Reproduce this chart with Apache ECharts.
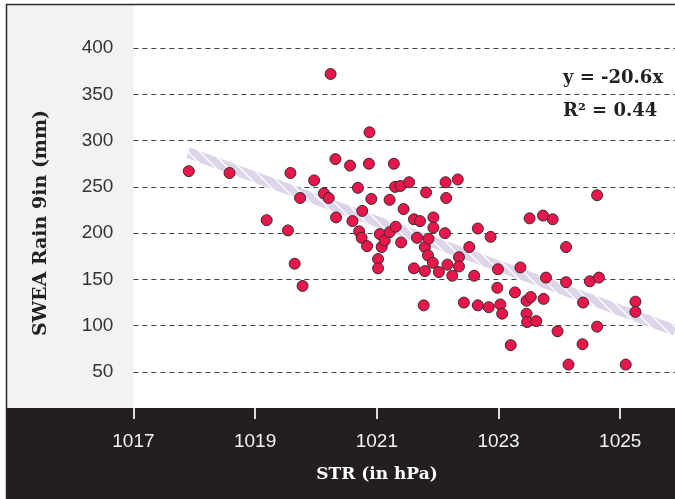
<!DOCTYPE html>
<html><head><meta charset="utf-8">
<script src="https://cdn.jsdelivr.net/npm/echarts@6/dist/echarts.min.js"></script>
<style>html,body{margin:0;padding:0;background:#fff}#c{width:675px;height:499px}</style>
</head><body><div id="c"></div>
<script>
const strValues = [
  1017.91, 1018.58, 1019.19, 1019.54, 1019.58, 1019.65, 1019.74, 1019.78, 1019.97, 1020.13,
  1020.21, 1020.24, 1020.32, 1020.33, 1020.56, 1020.60, 1020.69, 1020.71, 1020.75, 1020.76,
  1020.84, 1020.87, 1020.88, 1020.91, 1021.02, 1021.02, 1021.05, 1021.08, 1021.13, 1021.21,
  1021.21, 1021.28, 1021.30, 1021.31, 1021.39, 1021.40, 1021.44, 1021.53, 1021.61, 1021.61,
  1021.66, 1021.71, 1021.77, 1021.79, 1021.79, 1021.81, 1021.84, 1021.85, 1021.92, 1021.93,
  1021.93, 1022.02, 1022.12, 1022.13, 1022.14, 1022.16, 1022.24, 1022.33, 1022.35, 1022.35,
  1022.43, 1022.52, 1022.60, 1022.66, 1022.66, 1022.84, 1022.87, 1022.98, 1022.99, 1023.03,
  1023.06, 1023.20, 1023.27, 1023.36, 1023.46, 1023.46, 1023.47, 1023.51, 1023.53, 1023.62,
  1023.73, 1023.74, 1023.78, 1023.89, 1023.97, 1024.11, 1024.11, 1024.15, 1024.39, 1024.38,
  1024.50, 1024.62, 1024.62, 1024.65, 1025.09, 1025.25, 1025.25
];
const rainValues = [
  267, 265, 214, 203, 265, 167, 238, 143, 257, 243,
  238, 372, 280, 217, 273, 213, 249, 202, 195, 224,
  186, 275, 309, 237, 172, 162, 199, 185, 192, 236,
  201, 275, 250, 207, 251, 190, 226, 255, 215, 162,
  195, 213, 122, 185, 159, 244, 176, 194, 168, 217,
  206, 158, 200, 255, 238, 166, 154, 258, 174, 164,
  125, 185, 154, 205, 122, 120, 196, 141, 161, 123,
  113, 79, 136, 163, 113, 127, 104, 216, 131, 105,
  219, 129, 152, 215, 94, 185, 147, 58, 125, 80,
  148, 241, 99, 152, 58, 126, 115
];
const trendX = [1017.9, 1025.9];
const trendY = [287, 95];
const xTickValues = [1017, 1019, 1021, 1023, 1025];
const yTickValues = [50, 100, 150, 200, 250, 300, 350, 400];
const xAxisTitle = 'STR (in hPa)';
const yAxisTitle = 'SWEA Rain 9in (mm)';
const equationText = 'y = -20.6x';
const r2Text = 'R² = 0.44';

const pc = document.createElement('canvas');
pc.width = 12; pc.height = 12;
const g = pc.getContext('2d');
g.fillStyle = '#dcd5e9'; g.fillRect(0, 0, 12, 12);
g.strokeStyle = 'rgba(255,255,255,0.95)'; g.lineWidth = 1.4;
g.beginPath();
g.moveTo(-6, -6); g.lineTo(18, 18);
g.moveTo(-6, 6); g.lineTo(6, 18);
g.moveTo(6, -6); g.lineTo(18, 6);
g.stroke();

const chart = echarts.init(document.getElementById('c'), null, {renderer: 'canvas'});
const serifFont = '"DejaVu Serif", "Liberation Serif", serif';
chart.setOption({
  animation: false,
  backgroundColor: '#ffffff',
  grid: {left: 133.4, right: 0, top: 5, bottom: 91, containLabel: false},
  xAxis: {
    type: 'value', min: 1017, max: 1025.9,
    axisLine: {show: false},
    axisTick: {show: true, customValues: xTickValues, length: 11, lineStyle: {color: '#dddddd', width: 2}},
    axisLabel: {customValues: xTickValues, formatter: v => String(v), color: '#f2f2f2', fontSize: 19, fontFamily: 'Liberation Sans', margin: 24},
    splitLine: {show: false}
  },
  yAxis: {
    type: 'value', min: 11.1, max: 446.5,
    axisLine: {show: false},
    axisTick: {show: false, customValues: yTickValues},
    axisLabel: {customValues: yTickValues, formatter: v => String(v), color: '#333333', fontSize: 19, fontFamily: 'Liberation Sans', margin: 20},
    splitLine: {show: true, lineStyle: {type: [5, 4], color: '#444444', width: 1}}
  },
  graphic: [
    {type: 'rect', z: -1, shape: {x: 7, y: 5, width: 126.4, height: 403}, style: {fill: '#f2f2f2'}},
    {type: 'rect', z: -1, shape: {x: 7, y: 408, width: 670, height: 92}, style: {fill: '#231f20'}},
    {type: 'rect', z: 10, shape: {x: 6.5, y: 4.5, width: 680, height: 500}, style: {fill: 'none', stroke: '#2a2a2a', lineWidth: 1.5}},
    {type: 'text', z: 10, x: 41, y: 223, rotation: Math.PI / 2,
      style: {text: yAxisTitle, font: 'bold 19px ' + serifFont, fill: '#222222', align: 'center', verticalAlign: 'middle'}},
    {type: 'text', z: 10, x: 377, y: 475,
      style: {text: xAxisTitle, font: 'bold 17px ' + serifFont, fill: '#ffffff', align: 'center', verticalAlign: 'middle'}},
    {type: 'text', z: 10, x: 563, y: 78,
      style: {text: equationText, font: 'bold 18px ' + serifFont, fill: '#222222', align: 'left', verticalAlign: 'middle'}},
    {type: 'text', z: 10, x: 563, y: 111,
      style: {text: r2Text, font: 'bold 18px ' + serifFont, fill: '#222222', align: 'left', verticalAlign: 'middle'}}
  ],
  series: [
    {
      type: 'line', z: 1, silent: true, symbol: 'none',
      data: trendX.map((x, i) => [x, trendY[i]]),
      lineStyle: {width: 11, color: {image: pc, repeat: 'repeat'}, cap: 'butt'}
    },
    {
      type: 'scatter', z: 3, symbolSize: 11,
      data: strValues.map((x, i) => [x, rainValues[i]]),
      itemStyle: {color: '#e8174b', borderColor: '#3a2a2e', borderWidth: 1, opacity: 1}
    }
  ]
});
</script>
</body></html>
